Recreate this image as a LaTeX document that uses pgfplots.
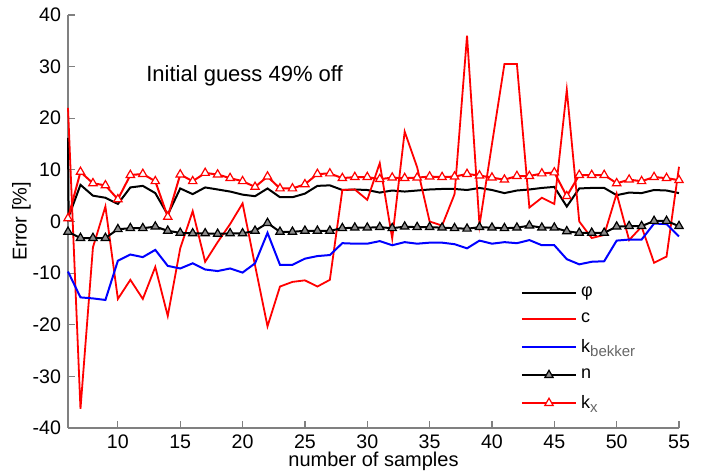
\documentclass[border=0pt]{standalone}
\usepackage{fontspec}
\setmainfont{Liberation Sans}
\usepackage{pgfplots}
\pgfplotsset{compat=1.18}

\begin{document}
\begin{tikzpicture}
\begin{axis}[
  scale only axis,
  width=305.5bp, height=206.5bp,
  xmin=6, xmax=55, ymin=-40, ymax=40,
  xtick={10,15,...,55}, ytick={-40,-30,...,40},
  axis x line*=bottom, axis y line*=left,
  axis line style={gray, line width=0.6bp},
  tick style={gray, line width=0.6bp},
  tick align=inside,
  major tick length=3.5bp,
  tick label style={font=\fontsize{9.8bp}{11bp}\selectfont},
  /pgf/number format/assume math mode=true,
  xlabel={number of samples},
  ylabel={Error [\%]},
  label style={font=\fontsize{10bp}{12bp}\selectfont},
  xlabel style={at={(axis description cs:0.5,-0.08)}, anchor=center},
  ylabel style={at={(axis description cs:-0.076,0.5)}, anchor=center},
  clip=false,
  legend style={at={(axis cs:41.8,-11.0)}, anchor=north west, draw=none, fill=none,
                font=\fontsize{9bp}{11bp}\selectfont, row sep=2.8bp},
  legend cell align=left,
  legend image code/.code={\draw[mark repeat=2,mark phase=2] plot coordinates {(0cm,0cm) (0.48cm,0cm) (0.96cm,0cm)};},
]
% phi
\addplot[color=black, line width=1bp] coordinates {
(6,16.2)(6.05,0.9)(7,7.1)(8,5.0)(9,4.6)(10,3.4)(11,6.6)(12,6.9)(13,5.5)(14,1.3)(15,6.4)
(16,5.3)(17,6.6)(18,6.2)(19,5.8)(20,5.2)(21,4.9)(22,6.4)(23,4.7)(24,4.7)(25,5.4)
(26,6.9)(27,7.0)(28,6.1)(29,6.2)(30,6.1)(31,5.6)(32,6.0)(33,5.8)(34,6.0)(35,6.2)
(36,6.3)(37,6.3)(38,6.1)(39,6.5)(40,6.1)(41,5.5)(42,6.0)(43,6.2)(44,6.5)(45,6.7)
(46,2.9)(47,6.4)(48,6.5)(49,6.5)(50,5.1)(51,5.6)(52,5.5)(53,6.1)(54,6.0)(55,5.5)};
\addlegendentry{φ}
% c
\addplot[color=red, line width=0.9bp] coordinates {
(6,22)(7,-36.3)(8,-5.0)(9,2.9)(10,-15.0)(11,-11.3)(12,-15.0)(13,-8.8)(14,-18.3)(15,-5.2)
(16,2.0)(17,-7.8)(18,-4.0)(19,-0.5)(20,3.5)(21,-8.5)(22,-20.3)(23,-12.6)(24,-11.7)(25,-11.4)
(26,-12.6)(27,-11.3)(28,6.1)(29,6.2)(30,4.2)(31,11.3)(32,-3.3)(33,17.4)(34,10.5)(35,0.0)
(36,-0.8)(37,5.3)(38,36.0)(39,-0.7)(40,15.0)(41,30.5)(42,30.5)(43,2.7)(44,4.6)(45,3.4)
(46,25.5)(47,0.0)(48,-3.2)(49,-2.6)(50,5.4)(51,-3.6)(52,-1.0)(53,-8.0)(54,-6.8)(55,10.6)};
\addlegendentry{c}
% k bekker
\addplot[color=blue, line width=1bp] coordinates {
(6,-9.7)(7,-14.7)(8,-14.9)(9,-15.2)(10,-7.6)(11,-6.4)(12,-6.9)(13,-5.5)(14,-8.6)(15,-9.1)
(16,-8.1)(17,-9.3)(18,-9.6)(19,-9.1)(20,-9.9)(21,-8.1)(22,-2.2)(23,-8.4)(24,-8.4)(25,-7.2)
(26,-6.7)(27,-6.5)(28,-4.2)(29,-4.3)(30,-4.3)(31,-3.8)(32,-4.6)(33,-4.0)(34,-4.3)(35,-4.1)
(36,-4.1)(37,-4.4)(38,-5.2)(39,-3.7)(40,-4.3)(41,-4.0)(42,-4.2)(43,-3.6)(44,-4.6)(45,-4.6)
(46,-7.3)(47,-8.3)(48,-7.8)(49,-7.7)(50,-3.7)(51,-3.5)(52,-3.5)(53,-0.4)(54,-0.5)(55,-2.9)};
\addlegendentry{k\raisebox{-0.45ex}{\textcolor{black!60}{\fontsize{7.5bp}{8bp}\selectfont bekker}}}
% n
\addplot[color=black, line width=1bp, mark=triangle*, mark size=2.4bp,
  mark options={fill=black!45, draw=black, line width=0.6bp}] coordinates {
(6,-2.0)(7,-3.2)(8,-3.2)(9,-3.2)(10,-1.5)(11,-1.3)(12,-1.3)(13,-1.0)(14,-1.8)(15,-2.2)
(16,-2.3)(17,-2.3)(18,-2.4)(19,-2.3)(20,-2.3)(21,-1.8)(22,-0.3)(23,-2.0)(24,-2.0)(25,-1.8)
(26,-1.8)(27,-1.8)(28,-1.3)(29,-1.2)(30,-1.2)(31,-1.1)(32,-1.3)(33,-1.0)(34,-1.1)(35,-1.1)
(36,-1.2)(37,-1.3)(38,-1.4)(39,-1.1)(40,-1.2)(41,-1.3)(42,-1.2)(43,-0.8)(44,-1.2)(45,-1.2)
(46,-1.9)(47,-2.2)(48,-2.2)(49,-2.2)(50,-1.0)(51,-0.9)(52,-0.9)(53,0.1)(54,0.1)(55,-0.9)};
\addlegendentry{n}
% k x
\addplot[color=red, line width=1bp, mark=triangle*, mark size=2.4bp,
  mark options={fill=white, draw=red, line width=0.6bp}] coordinates {
(6,0.6)(7,9.6)(8,7.4)(9,7.0)(10,4.3)(11,9.0)(12,9.2)(13,7.8)(14,0.9)(15,9.1)
(16,7.8)(17,9.4)(18,9.1)(19,8.4)(20,7.8)(21,6.7)(22,8.7)(23,6.4)(24,6.4)(25,7.2)
(26,9.2)(27,9.3)(28,8.4)(29,8.6)(30,8.6)(31,8.2)(32,8.5)(33,8.4)(34,8.5)(35,8.7)
(36,8.6)(37,8.7)(38,9.2)(39,8.9)(40,8.5)(41,8.1)(42,8.8)(43,8.8)(44,9.3)(45,9.5)
(46,4.9)(47,9.0)(48,9.0)(49,9.0)(50,7.4)(51,8.1)(52,7.8)(53,8.6)(54,8.4)(55,8.0)};
\addlegendentry{k\raisebox{-0.45ex}{\textcolor{black!60}{\fontsize{7.5bp}{8bp}\selectfont x}}}
\node[anchor=west, inner sep=0pt, font=\fontsize{11bp}{13bp}\selectfont] at (axis cs:12.25,28.2) {Initial guess 49\% off};
\end{axis}
\path (current axis.south west) ++(-34bp,-23bp) coordinate (bbA);
\path (current axis.north east) ++(13.5bp,7.5bp) coordinate (bbB);
\pgfresetboundingbox
\path[use as bounding box] (bbA) rectangle (bbB);
\end{tikzpicture}
\end{document}
